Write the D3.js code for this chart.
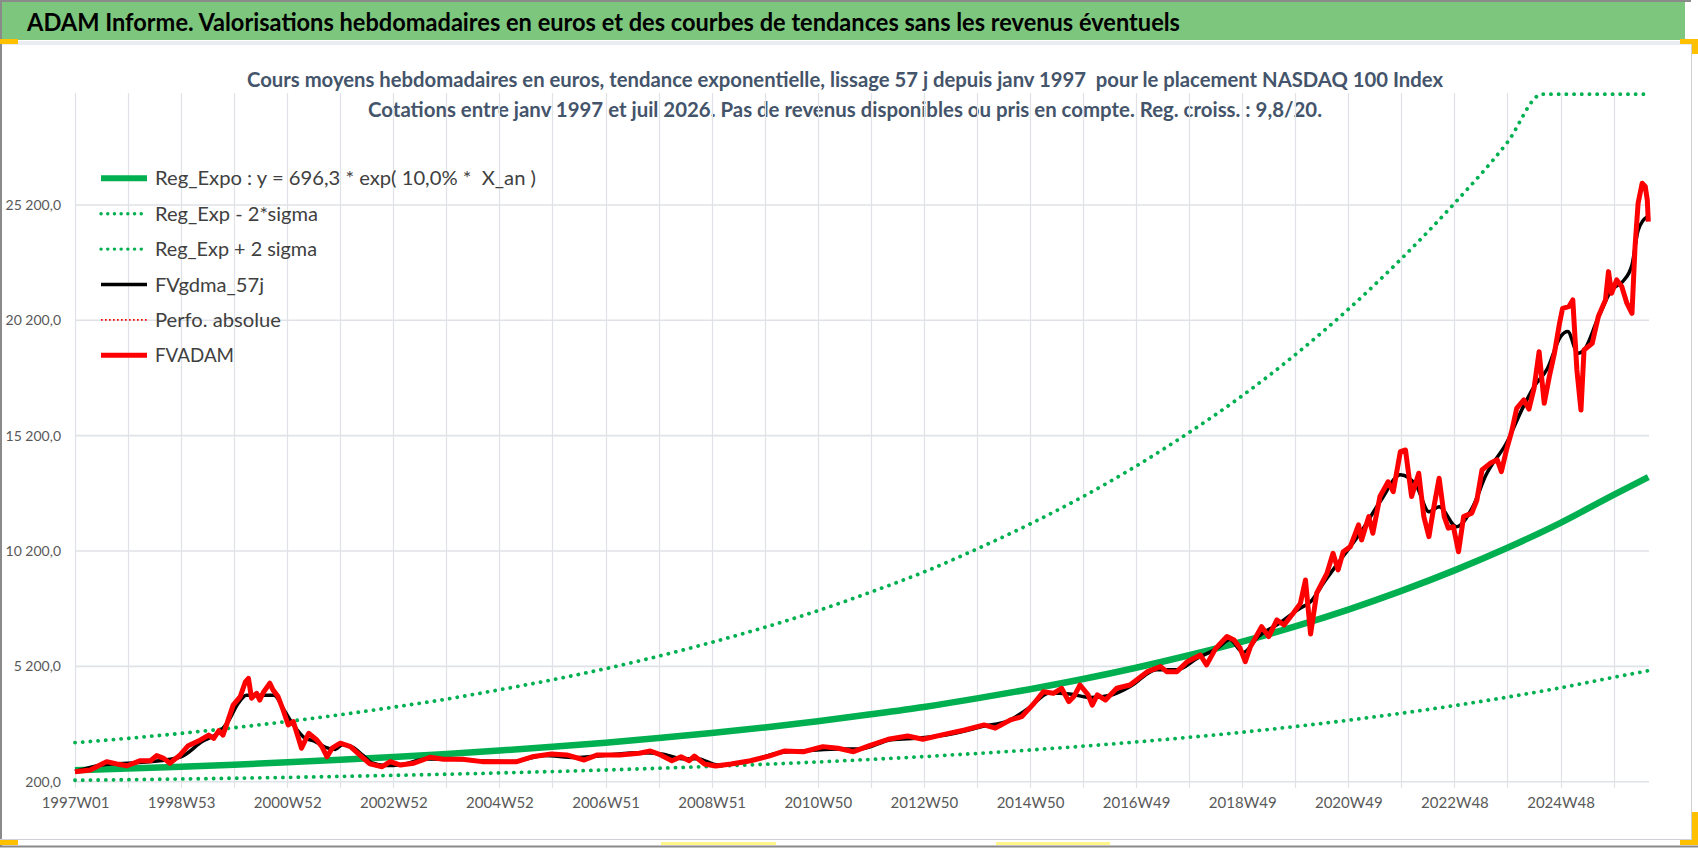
<!DOCTYPE html>
<html>
<head>
<meta charset="utf-8">
<script src="https://cdn.jsdelivr.net/npm/d3@7"></script>
<style>
  html, body { margin: 0; padding: 0; background: #fff; }
  svg { display: block; font-family: Lato, "Open Sans", sans-serif; }
  text { white-space: pre; }
</style>
</head>
<body>
<div id="chart"></div>
<script>
  // titles
  var bannerTitle = "ADAM Informe. Valorisations hebdomadaires en euros et des courbes de tendances sans les revenus éventuels";
  var chartTitle1 = "Cours moyens hebdomadaires en euros, tendance exponentielle, lissage 57 j depuis janv 1997  pour le placement NASDAQ 100 Index";
  var chartTitle2 = "Cotations entre janv 1997 et juil 2026. Pas de revenus disponibles ou pris en compte. Reg. croiss. : 9,8/20.";

  // axes (week index from 1997W01)
  var xTickLabels = ["1997W01", "1998W53", "2000W52", "2002W52", "2004W52", "2006W51", "2008W51",
    "2010W50", "2012W50", "2014W50", "2016W49", "2018W49", "2020W49", "2022W48", "2024W48"];
  var yTicks = [200, 5200, 10200, 15200, 20200, 25200];
  var lastWeek = 1542;

  var legendLabels = ["Reg_Expo : y = 696,3 * exp( 10,0% *  X_an )", "Reg_Exp - 2*sigma", "Reg_Exp + 2 sigma",
    "FVgdma_57j", "Perfo. absolue", "FVADAM"];

  var trendWeeks = [0, 52, 104, 156, 208, 260, 312, 364, 416, 468, 520, 572, 624, 676, 728, 780, 832, 884,
    936, 988, 1040, 1092, 1144, 1196, 1248, 1300, 1352, 1404, 1456, 1508, 1542];
  var regExpo = [700, 770, 850, 940, 1040, 1150, 1270, 1400, 1550, 1710, 1890, 2090, 2310, 2550, 2820, 3120,
    3440, 3810, 4210, 4650, 5140, 5680, 6270, 6930, 7660, 8470, 9360, 10340, 11420, 12630, 13400];
  var regMinus2 = [262, 288, 318, 352, 389, 430, 475, 524, 580, 640, 707, 782, 864, 954, 1055, 1167, 1287,
    1425, 1575, 1739, 1922, 2124, 2345, 2592, 2865, 3168, 3501, 3867, 4271, 4724, 5010];
  var plusWeeks = [0, 52, 104, 156, 208, 260, 312, 364, 416, 468, 520, 572, 624, 676, 728, 780, 832, 884,
    936, 988, 1040, 1092, 1144, 1196, 1248, 1300, 1352, 1404, 1438, 1456, 1508, 1542];
  var regPlus2 = [1890, 2080, 2295, 2540, 2810, 3105, 3430, 3780, 4185, 4620, 5100, 5640, 6240, 6890, 7610,
    8420, 9290, 10290, 11370, 12560, 13880, 15340, 16930, 18710, 20680, 22870, 25270, 27920, 30000, 30000,
    30000, 30000];

  // FVADAM weekly value [week, euros]
  var fvadam = [[0, 630], [15, 710], [31, 1070], [41, 970], [51, 890], [64, 1110], [74, 1110], [80, 1330],
    [87, 1210], [93, 1000], [103, 1360], [111, 1760], [123, 2010], [131, 2220], [136, 2080], [141, 2410],
    [145, 2220], [149, 2730], [155, 3520], [162, 3890], [167, 4530], [170, 4680], [173, 3820], [178, 4030],
    [181, 3740], [185, 4100], [191, 4470], [194, 4180], [199, 3890], [204, 3310], [209, 2660], [214, 2800],
    [219, 2080], [222, 1650], [229, 2300], [237, 2010], [242, 1720], [247, 1280], [252, 1650], [260, 1870],
    [270, 1720], [279, 1360], [289, 970], [301, 850], [309, 1070], [319, 920], [332, 1000], [348, 1260],
    [361, 1170], [380, 1170], [399, 1070], [433, 1070], [448, 1280], [467, 1400], [482, 1360], [499, 1140],
    [512, 1360], [534, 1360], [553, 1430], [564, 1530], [574, 1360], [585, 1110], [594, 1280], [602, 1110],
    [607, 1310], [617, 970], [628, 880], [643, 970], [662, 1110], [680, 1310], [695, 1530], [714, 1500],
    [733, 1720], [748, 1650], [763, 1500], [778, 1750], [797, 2040], [816, 2180], [831, 2040], [853, 2260],
    [872, 2440], [891, 2660], [902, 2520], [917, 2880], [928, 3020], [940, 3600], [949, 4100], [959, 4030],
    [967, 4250], [974, 3670], [979, 3890], [985, 4390], [993, 3960], [997, 3520], [1002, 3960], [1010, 3740],
    [1021, 4250], [1034, 4390], [1051, 4970], [1064, 5190], [1070, 4970], [1080, 4970], [1090, 5400],
    [1103, 5690], [1109, 5260], [1118, 5980], [1129, 6490], [1136, 6340], [1142, 5980], [1147, 5400],
    [1152, 6050], [1163, 6920], [1170, 6490], [1178, 7210], [1185, 6990], [1194, 7500], [1201, 7930],
    [1206, 8940], [1211, 6600], [1217, 8370], [1227, 9230], [1233, 10100], [1238, 9380], [1243, 10170],
    [1250, 10390], [1258, 11330], [1261, 10680], [1268, 11690], [1272, 10970], [1279, 12560], [1287, 13200],
    [1292, 12770], [1299, 14510], [1304, 14580], [1310, 12560], [1317, 13570], [1322, 11690], [1327, 10820],
    [1331, 11900], [1337, 13350], [1342, 11690], [1346, 11190], [1351, 11250], [1356, 10170], [1361, 11690],
    [1369, 11840], [1374, 12410], [1379, 13710], [1387, 14000], [1394, 14150], [1398, 13640], [1403, 14580],
    [1408, 15370], [1413, 16380], [1420, 16750], [1425, 16350], [1430, 17250], [1435, 18840], [1440, 16600],
    [1445, 17760], [1450, 18770], [1455, 20070], [1458, 20720], [1464, 20790], [1468, 21080], [1472, 18050],
    [1476, 16310], [1479, 18910], [1487, 19200], [1493, 20360], [1500, 21080], [1503, 22310], [1506, 21370],
    [1511, 21950], [1516, 21660], [1521, 20940], [1526, 20500], [1529, 23390], [1532, 25270], [1536, 26140],
    [1539, 26000], [1541, 25420], [1542, 24480]];

  // FVgdma_57j smoothed value [week, euros]
  var fvgdma = [[0, 640], [30, 950], [60, 1020], [90, 1150], [105, 1300], [125, 1950], [140, 2300], [150, 2800],
    [160, 3600], [168, 3950], [185, 3950], [195, 3950], [205, 3300], [215, 2600], [225, 2100], [235, 1950],
    [245, 1700], [255, 1600], [262, 1800], [272, 1700], [282, 1350], [292, 1000], [305, 900], [320, 950],
    [345, 1180], [370, 1170], [400, 1100], [430, 1080], [460, 1340], [490, 1250], [520, 1350], [555, 1450],
    [575, 1400], [595, 1200], [610, 1200], [630, 920], [660, 1080], [690, 1450], [720, 1550], [750, 1620],
    [770, 1620], [800, 2020], [830, 2100], [860, 2280], [890, 2600], [915, 2850], [935, 3400], [955, 4050],
    [975, 4000], [995, 3850], [1015, 3950], [1035, 4350], [1060, 5050], [1080, 5050], [1100, 5550],
    [1120, 6000], [1132, 6350], [1145, 5800], [1160, 6500], [1180, 7050], [1200, 7700], [1211, 8000],
    [1225, 8900], [1240, 9800], [1260, 11000], [1280, 12400], [1299, 13500], [1315, 13000], [1327, 11900],
    [1337, 12120], [1354, 11250], [1370, 12120], [1383, 13500], [1403, 14880], [1420, 16500], [1430, 17320],
    [1443, 18100], [1456, 19490], [1463, 19710], [1473, 18770], [1479, 18910], [1492, 20210], [1506, 21520],
    [1517, 21880], [1526, 22600], [1532, 24100], [1541, 24690]];

  function drawChart() {
    var W = 1698, H = 848;
    var svg = d3.select("#chart").append("svg").attr("width", W).attr("height", H);

    svg.append("rect").attr("width", W).attr("height", H).attr("fill", "#fff");

    // banner
    svg.append("rect").attr("x", 1).attr("y", 1).attr("width", 1684).attr("height", 39).attr("fill", "#7DC67D");
    svg.append("line").attr("x1", 0).attr("x2", 1691).attr("y1", 1).attr("y2", 1).attr("stroke", "#8a8a8a").attr("stroke-width", 2);
    svg.append("rect").attr("x", 0).attr("y", 41).attr("width", 1691).attr("height", 4).attr("fill", "#E9ECF1");
    svg.append("text").attr("x", 27).attr("y", 31)
      .attr("font-size", 25).attr("font-weight", "bold").attr("fill", "#000")
      .attr("textLength", 1153).attr("lengthAdjust", "spacingAndGlyphs")
      .text(bannerTitle);

    // frame
    svg.append("line").attr("x1", 1).attr("x2", 1).attr("y1", 0).attr("y2", 846).attr("stroke", "#8a8a8a").attr("stroke-width", 2);
    svg.append("line").attr("x1", 1691.5).attr("x2", 1691.5).attr("y1", 44).attr("y2", 840).attr("stroke", "#d0d0d0");
    svg.append("line").attr("x1", 0).attr("x2", 1692).attr("y1", 839.5).attr("y2", 839.5).attr("stroke", "#cfd3d9");
    svg.append("line").attr("x1", 0).attr("x2", 1698).attr("y1", 846.5).attr("y2", 846.5).attr("stroke", "#8a8a8a").attr("stroke-width", 2);
    var yellow = "#FFC000";
    svg.append("rect").attr("x", 0).attr("y", 39).attr("width", 18).attr("height", 5).attr("fill", yellow);
    svg.append("rect").attr("x", 0).attr("y", 840).attr("width", 18).attr("height", 5).attr("fill", yellow);
    svg.append("rect").attr("x", 1680).attr("y", 39).attr("width", 18).attr("height", 5).attr("fill", yellow);
    svg.append("rect").attr("x", 1692).attr("y", 39).attr("width", 6).attr("height", 15).attr("fill", yellow);
    svg.append("rect").attr("x", 1692).attr("y", 812).attr("width", 6).attr("height", 33).attr("fill", yellow);
    svg.append("rect").attr("x", 1680).attr("y", 840).attr("width", 18).attr("height", 5).attr("fill", yellow);
    svg.append("rect").attr("x", 661).attr("y", 842).attr("width", 115).attr("height", 3).attr("fill", "#FFF58A");
    svg.append("rect").attr("x", 996).attr("y", 842).attr("width", 114).attr("height", 3).attr("fill", "#FFF58A");

    // chart titles
    svg.append("text").attr("x", 845).attr("y", 87).attr("text-anchor", "middle")
      .attr("font-size", 20).attr("font-weight", "bold").attr("fill", "#44546A")
      .attr("textLength", 1196).attr("lengthAdjust", "spacingAndGlyphs")
      .text(chartTitle1);
    svg.append("text").attr("x", 845).attr("y", 117).attr("text-anchor", "middle")
      .attr("font-size", 20).attr("font-weight", "bold").attr("fill", "#44546A")
      .attr("textLength", 954).attr("lengthAdjust", "spacingAndGlyphs")
      .text(chartTitle2);

    // scales
    var x = d3.scaleLinear().domain([0, lastWeek]).range([75, 1648.3]);
    var y = d3.scaleLinear().domain([200, 30000]).range([781.7, 94.2]);

    // vertical gridlines every 52 weeks, running past the axis as ticks
    var gridWeeks = d3.range(0, lastWeek, 52);
    svg.append("g").selectAll("line").data(gridWeeks).enter().append("line")
      .attr("x1", d => Math.round(x(d)) + 0.5).attr("x2", d => Math.round(x(d)) + 0.5)
      .attr("y1", 93).attr("y2", 788)
      .attr("stroke", "#DFE2E7").attr("stroke-width", 1.2);

    // horizontal gridlines
    svg.append("g").selectAll("line").data(yTicks).enter().append("line")
      .attr("x1", 75).attr("x2", 1649)
      .attr("y1", d => y(d)).attr("y2", d => y(d))
      .attr("stroke", "#DFE2E7").attr("stroke-width", 1.6);

    // y labels
    var fr = d3.formatLocale({ decimal: ",", thousands: " ", grouping: [3], currency: ["", " €"] });
    var fmt = fr.format(",.1f");
    var yAxis = d3.axisLeft(y).tickValues(yTicks).tickFormat(fmt).tickSize(0).tickPadding(0);
    var gy = svg.append("g").attr("transform", "translate(61,0)").call(yAxis);
    gy.select(".domain").remove();
    gy.selectAll("text").attr("font-size", 14).attr("fill", "#595959")
      .attr("font-family", "Lato, 'Open Sans', sans-serif");

    // x labels
    var xAxis = d3.axisBottom(x).tickValues(xTickLabels.map((d, i) => i * 104))
      .tickFormat((d, i) => xTickLabels[i]).tickSize(0).tickPadding(0);
    var gx = svg.append("g").attr("transform", "translate(0,797)").call(xAxis);
    gx.select(".domain").remove();
    gx.selectAll("text").attr("font-size", 15).attr("fill", "#595959")
      .attr("font-family", "Lato, 'Open Sans', sans-serif");

    // series
    var trendLine = d3.line().x(d => x(d[0])).y(d => y(d[1])).curve(d3.curveMonotoneX);
    var green = "#00B050";
    var dotted = "0.1 7.6";

    svg.append("path").datum(d3.zip(trendWeeks, regMinus2)).attr("d", trendLine)
      .attr("fill", "none").attr("stroke", green).attr("stroke-width", 3.8)
      .attr("stroke-dasharray", dotted).attr("stroke-linecap", "round");
    svg.append("path").datum(d3.zip(plusWeeks, regPlus2)).attr("d", trendLine)
      .attr("fill", "none").attr("stroke", green).attr("stroke-width", 3.8)
      .attr("stroke-dasharray", dotted).attr("stroke-linecap", "round");
    svg.append("path").datum(d3.zip(trendWeeks, regExpo)).attr("d", trendLine)
      .attr("fill", "none").attr("stroke", green).attr("stroke-width", 6.5);

    svg.append("path").datum(fvgdma)
      .attr("d", d3.line().x(d => x(d[0])).y(d => y(d[1])).curve(d3.curveMonotoneX))
      .attr("fill", "none").attr("stroke", "#000").attr("stroke-width", 3.5)
      .attr("stroke-linejoin", "round");
    svg.append("path").datum(fvadam).attr("d", d3.line().x(d => x(d[0])).y(d => y(d[1])))
      .attr("fill", "none").attr("stroke", "#FF0000").attr("stroke-width", 5)
      .attr("stroke-linejoin", "round");

    // legend
    var legendStyle = [
      { stroke: green, width: 6, dash: null, len: 381 },
      { stroke: green, width: 3.4, dash: "0.1 6.6", len: 163 },
      { stroke: green, width: 3.4, dash: "0.1 6.6", len: 162 },
      { stroke: "#000", width: 3.5, dash: null, len: 109 },
      { stroke: "#FF0000", width: 1.8, dash: "1.6 2.4", len: 126 },
      { stroke: "#FF0000", width: 5, dash: null, len: 79 }
    ];
    var leg = svg.append("g").selectAll("g").data(legendLabels).enter().append("g")
      .attr("transform", (d, i) => "translate(0," + (178.3 + i * 35.4) + ")");
    leg.append("line").attr("x1", 101).attr("x2", 147).attr("y1", 0).attr("y2", 0)
      .attr("stroke", (d, i) => legendStyle[i].stroke)
      .attr("stroke-width", (d, i) => legendStyle[i].width)
      .attr("stroke-dasharray", (d, i) => legendStyle[i].dash)
      .attr("stroke-linecap", (d, i) => legendStyle[i].dash && legendStyle[i].stroke === green ? "round" : "butt");
    leg.append("text").attr("x", 155).attr("y", 7)
      .attr("font-size", 19).attr("fill", "#404040")
      .attr("textLength", (d, i) => legendStyle[i].len).attr("lengthAdjust", "spacingAndGlyphs")
      .text(d => d);
  }

  drawChart();
</script>
</body>
</html>
